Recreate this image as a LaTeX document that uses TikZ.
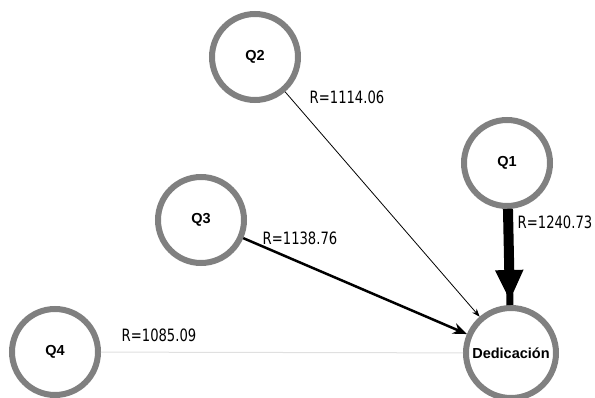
\documentclass[tikz,border=0pt]{standalone}
\usepackage{fontspec}
\setmainfont{Liberation Sans}
\newfontfamily\labfont[FakeStretch=0.86]{DejaVu Sans Condensed}
\usetikzlibrary{arrows.meta}
\begin{document}
\begin{tikzpicture}[x=1pt,y=-1pt,
  var/.style={circle,draw=ringgray,line width=6pt,fill=white,minimum size=86pt,inner sep=0pt,font=\fontsize{14.5}{16}\selectfont\bfseries},
  rlab/.style={font=\labfont\fontsize{17}{19}\selectfont,inner sep=0pt},
]
\definecolor{ringgray}{HTML}{808080}
\useasboundingbox[fill=white] (0,0) rectangle (595,398);
\node[var] (q2) at (255,57) {Q2};
\node[var] (q1) at (507,163) {Q1};
\node[var] (q3) at (201,220) {Q3};
\node[var] (q4) at (55,352) {Q4};
\node[var,minimum size=90pt] (ded) at (511,353) {Dedicación};
% edges
\draw[black!12,line width=1pt] (q4) -- (ded);
\draw[line width=0.8pt,-{Stealth[length=8pt,width=6pt]}] (q2) -- (ded);
\draw[line width=2.5pt,-{Stealth[length=14pt,width=11pt]}] (q3) -- (ded);
\draw[line width=7pt] (q1) -- (ded);
\draw[line width=10pt,-{Triangle[length=31pt,width=26pt]},shorten >=4pt] (q1) -- (ded);
% labels
\node[rlab] (l2) at (347,97) {R=1114.06};
\node[rlab] (l1) at (555,222) {R=1240.73};
\node[rlab] (l3) at (300,238) {R=1138.76};
\node[rlab] (l4) at (159,335) {R=1085.09};
\end{tikzpicture}
\end{document}
